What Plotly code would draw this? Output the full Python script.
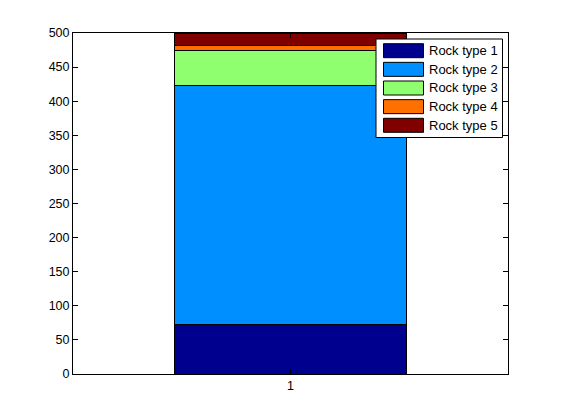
import plotly.graph_objects as go

# stacked bar, one group
categories = [1]
rock_names = ['Rock type 1', 'Rock type 2', 'Rock type 3', 'Rock type 4', 'Rock type 5']
rock_values = [73, 350, 52, 6, 19]
rock_colors = ['#00008F', '#008FFF', '#8FFF70', '#FF7000', '#800000']
y_ticks = [0, 50, 100, 150, 200, 250, 300, 350, 400, 450, 500]

# page has an 8px body margin, so the figure is a bit smaller than the window
OFF = 8
W, H = 553, 412
L, R, T, B = 65, 53, 25, 46
pw, ph = W - L - R, H - T - B


def px_x(x):
    # window pixel -> paper coordinate
    return (x - OFF - L) / pw


def px_y(y):
    return (H - B - (y - OFF)) / ph


fig = go.Figure()
for name, val, col in zip(rock_names, rock_values, rock_colors):
    fig.add_trace(go.Bar(x=categories, y=[val], name=name, width=0.8,
                         marker=dict(color=col, line=dict(color='black', width=1)),
                         showlegend=False))

# MATLAB style legend box drawn by hand
shapes = [dict(type='rect', xref='paper', yref='paper',
               x0=px_x(376), x1=px_x(502.5), y0=px_y(137.5), y1=px_y(39),
               line=dict(color='black', width=1), fillcolor='white')]
annotations = []
for i, (name, col) in enumerate(zip(rock_names, rock_colors)):
    yc = 50.7 + i * 18.65
    shapes.append(dict(type='rect', xref='paper', yref='paper',
                       x0=px_x(383.5), x1=px_x(423.5), y0=px_y(yc + 7), y1=px_y(yc - 7),
                       line=dict(color='black', width=1), fillcolor=col))
    annotations.append(dict(text=name, xref='paper', yref='paper', x=px_x(427), y=px_y(yc),
                            xanchor='left', yanchor='middle', showarrow=False,
                            font=dict(size=13, color='black')))

fig.update_layout(
    barmode='stack',
    width=W, height=H,
    margin=dict(l=L, r=R, t=T, b=B),
    plot_bgcolor='white', paper_bgcolor='white',
    font=dict(family='Liberation Sans, Arial, sans-serif', size=12.5, color='black'),
    shapes=shapes, annotations=annotations,
)
fig.update_xaxes(range=[0.25, 1.75], tickvals=categories, ticktext=[str(c) for c in categories],
                 showline=True, linecolor='black', linewidth=1, mirror='ticks',
                 ticks='inside', ticklen=5, tickcolor='black', showgrid=False, zeroline=False)
fig.update_yaxes(range=[0, 500], tickvals=y_ticks,
                 showline=True, linecolor='black', linewidth=1, mirror='ticks',
                 ticks='inside', ticklen=5, tickcolor='black', showgrid=False, zeroline=False)

fig.write_html("out.html")
